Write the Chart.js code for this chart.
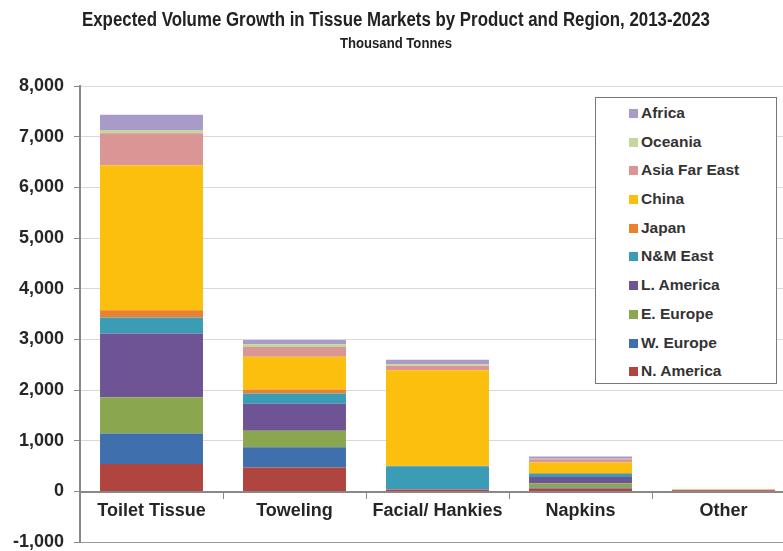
<!DOCTYPE html>
<html>
<head>
<meta charset="utf-8">
<script src="https://cdn.jsdelivr.net/npm/chart.js@4"></script>
<style>
  body { margin: 0; overflow: hidden; background: #fff; }
  #wrap { position: absolute; left: 0; top: 0; width: 800px; height: 563px; }
  #legend {
    position: absolute; left: 595px; top: 97px; width: 182px; height: 287px;
    border: 1.5px solid #777; background: #fff; box-sizing: border-box;
    font-family: "Liberation Sans", Arial, sans-serif; font-weight: bold;
    font-size: 15.5px; color: #333; padding-top: 1px;
  }
  #legend .item { height: 28.7px; line-height: 28.7px; padding-left: 33px; white-space: nowrap; }
  #legend .sw { display: inline-block; width: 9px; height: 9px; margin-right: 3px; vertical-align: 0px; }
</style>
</head>
<body>
<div id="wrap">
  <canvas id="mainChart" width="800" height="563"></canvas>
  <div id="legend"></div>
</div>
<script>
// product categories along the x axis
const products = ['Toilet Tissue', 'Toweling', 'Facial/ Hankies', 'Napkins', 'Other'];

// thousand tonnes of growth, per region, in product order
const nAmerica    = [541, 475, 30, 60, 25];
const wEurope     = [602, 396, 10, 20, 0];
const eEurope     = [718, 330, 10, 85, 0];
const lAmerica    = [1254, 528, 15, 119, 0];
const nmEast      = [317, 205, 435, 65, 0];
const japan       = [145, 79, 10, 14, 15];
const china       = [2860, 647, 1881, 211, 0];
const asiaFarEast = [630, 191, 90, 60, 0];
const oceania     = [65, 53, 30, 13, 0];
const africa      = [300, 86, 86, 46, 0];

const yTicks = [-1000, 0, 1000, 2000, 3000, 4000, 5000, 6000, 7000, 8000];

const titleText = 'Expected Volume Growth in Tissue Markets by Product and Region, 2013-2023';
const subtitleText = 'Thousand Tonnes';

const datasets = [
  { label: 'N. America', data: nAmerica, backgroundColor: '#b0443f' },
  { label: 'W. Europe', data: wEurope, backgroundColor: '#3f6fad' },
  { label: 'E. Europe', data: eEurope, backgroundColor: '#8aa74f' },
  { label: 'L. America', data: lAmerica, backgroundColor: '#6e5494' },
  { label: 'N&M East', data: nmEast, backgroundColor: '#3a9db5' },
  { label: 'Japan', data: japan, backgroundColor: '#e8822f' },
  { label: 'China', data: china, backgroundColor: '#fcbf0e' },
  { label: 'Asia Far East', data: asiaFarEast, backgroundColor: '#d99694' },
  { label: 'Oceania', data: oceania, backgroundColor: '#c3d69b' },
  { label: 'Africa', data: africa, backgroundColor: '#a99bc8' }
];

// condensed-looking title: squeeze normal bold text horizontally
function drawSqueezed(c, text, cx, cy, size, targetWidth) {
  c.save();
  c.font = 'bold ' + size + 'px "Liberation Sans", Arial, sans-serif';
  const w = c.measureText(text).width;
  const sx = targetWidth / w;
  c.translate(cx, cy);
  c.scale(sx, 1);
  c.fillStyle = '#222';
  c.textAlign = 'center';
  c.textBaseline = 'middle';
  c.fillText(text, 0, 0);
  c.restore();
}

const titlePlugin = {
  id: 'squeezedTitle',
  afterDraw(chart) {
    const c = chart.ctx;
    drawSqueezed(c, titleText, 396, 20, 20, 628);
    drawSqueezed(c, subtitleText, 396, 44, 14, 112);
  }
};

const ctx = document.getElementById('mainChart').getContext('2d');

const chart = new Chart(ctx, {
  type: 'bar',
  data: { labels: products, datasets },
  plugins: [titlePlugin],
  options: {
    responsive: false,
    animation: false,
    layout: { padding: { left: 0, right: 5, top: 86, bottom: 0 } },
    datasets: { bar: { categoryPercentage: 0.72, barPercentage: 1 } },
    plugins: {
      legend: { display: false },
      tooltip: { enabled: false }
    },
    scales: {
      x: {
        stacked: true,
        position: { y: 0 },
        grid: { drawOnChartArea: false, tickLength: 6, color: '#888', offset: true },
        border: { color: '#888', width: 2 },
        ticks: {
          color: '#262626',
          padding: 3,
          maxRotation: 0,
          autoSkip: false,
          font: { family: "'Liberation Sans', Arial, sans-serif", size: 18, weight: 'bold' }
        }
      },
      y: {
        stacked: true,
        min: yTicks[0],
        max: yTicks[yTicks.length - 1],
        afterFit: (scale) => { scale.width = 80; },
        afterBuildTicks: (scale) => { scale.ticks = yTicks.map(v => ({ value: v })); },
        grid: {
          color: (c) => (c.tick && c.tick.value === -1000 ? '#999' : '#d9d9d9'),
          tickColor: '#888',
          tickLength: 6
        },
        border: { color: '#888', width: 2 },
        ticks: {
          color: '#262626',
          padding: 10,
          font: { family: "'Liberation Sans', Arial, sans-serif", size: 18, weight: 'bold' },
          callback: (v) => v.toLocaleString('en-US')
        }
      }
    }
  }
});

// legend box drawn in HTML, top entry = last dataset
const legendEl = document.getElementById('legend');
chart.data.datasets.slice().reverse().forEach(ds => {
  const item = document.createElement('div');
  item.className = 'item';
  const sw = document.createElement('span');
  sw.className = 'sw';
  sw.style.background = ds.backgroundColor;
  item.appendChild(sw);
  item.appendChild(document.createTextNode(ds.label));
  legendEl.appendChild(item);
});
</script>
</body>
</html>
